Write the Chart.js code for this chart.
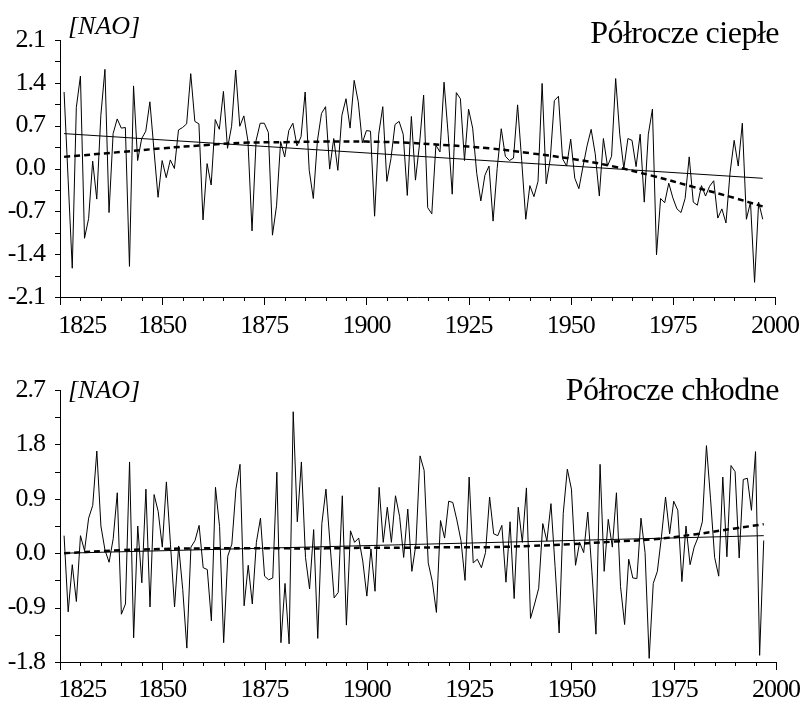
<!DOCTYPE html>
<html>
<head>
<meta charset="utf-8">
<script src="https://cdn.jsdelivr.net/npm/chart.js@4.4.1/dist/chart.umd.min.js"></script>
<style>
    html, body { margin: 0; padding: 0; background: #fff; }
    #page { position: relative; width: 807px; height: 702px; overflow: hidden; }
    canvas { position: absolute; left: 0; }
    .lbl { position: absolute; font-family: "Liberation Serif", serif; color: #000; white-space: nowrap; }
    .title { font-size: 32px; line-height: 32px; letter-spacing: -0.5px; right: 28px; }
    .unit { font-size: 26px; line-height: 26px; font-style: italic; left: 68px; }
</style>
</head>
<body>
<div id="page">
    <canvas id="warm" width="807" height="350" style="top:0"></canvas>
    <canvas id="cold" width="807" height="352" style="top:350px"></canvas>
    <div class="lbl title" style="top:16px">Półrocze ciepłe</div>
    <div class="lbl unit" style="top:13px">[NAO]</div>
    <div class="lbl title" style="top:373px">Półrocze chłodne</div>
    <div class="lbl unit" style="top:377px">[NAO]</div>
</div>
<script>
// ── Data ─────────────────────────────────────────────────────────────────────

const firstYear = 1826;

// NAO index, warm half-year (1826–1997)
const warmValues = [
     1.25, -0.19, -1.63,  1.00,  1.51, -1.14, -0.82,  0.12, -0.50,  0.87,
     1.62, -0.72,  0.57,  0.81,  0.66,  0.67, -1.60,  1.35,  0.13,  0.49,
     0.61,  1.09,  0.30, -0.47,  0.13, -0.15,  0.14,  0.00,  0.63,  0.67,
     0.73,  1.55,  0.77,  0.73, -0.84,  0.08, -0.27,  0.80,  0.64,  1.26,
     0.33,  0.69,  1.61,  0.69,  0.86,  0.45, -1.02,  0.46,  0.74,  0.74,
     0.59, -1.09, -0.61,  0.44,  0.19,  0.62,  0.74,  0.37,  0.52,  1.25,
    -0.03, -0.49,  0.45,  0.90,  1.01, -0.01,  0.49, -0.03,  0.87,  1.14,
     0.66,  1.44,  1.09,  0.42,  0.62,  0.61, -0.78,  0.56,  1.01, -0.21,
     0.16,  0.72,  0.77,  0.56, -0.44,  0.85, -0.19,  0.40,  1.20, -0.64,
    -0.74,  0.38,  0.27,  1.41,  0.56, -0.42,  1.24,  1.14,  0.13,  0.97,
     0.66, -0.08, -0.53, -0.11,  0.04, -0.86,  0.00,  0.65,  0.20,  0.13,
     0.17,  1.04,  0.13, -0.83, -0.28, -0.46, -0.21,  1.39, -0.25,  0.16,
     1.11,  1.18,  0.16,  0.04,  0.48, -0.16, -0.33,  0.03,  0.37,  0.64,
     0.24, -0.45,  0.49,  0.04,  0.20,  1.47,  0.56,  0.00,  0.49,  0.46,
     0.03,  0.56, -0.55,  0.56,  0.97, -1.41, -0.49, -0.56, -0.24, -0.48,
    -0.66, -0.72, -0.49,  0.19, -0.55, -0.60, -0.28, -0.45, -0.29, -0.20,
    -0.81, -0.66, -0.89, -0.07,  0.46,  0.04,  0.74, -0.83, -0.55, -1.86,
    -0.55, -0.83,
];

// NAO index, cold half-year (1826–1997)
const coldValues = [
     0.29, -0.97, -0.19, -0.80,  0.29,  0.04,  0.58,  0.79,  1.69,  0.45,
     0.05, -0.15,  0.24,  1.00, -1.01, -0.84,  1.51, -1.40,  0.45, -0.49,
     1.06, -0.89,  0.97,  0.69,  0.10,  1.18,  0.15, -0.89,  0.12, -0.60,
    -1.57,  0.10,  0.21,  0.46, -0.24, -0.27, -1.12,  1.09,  0.44, -1.48,
    -0.05,  0.15,  1.06,  1.47, -0.87, -0.20, -0.84,  0.18,  0.58, -0.38,
    -0.44, -0.41,  1.34, -1.48, -0.50, -1.50,  2.34,  0.52,  1.51, -0.07,
    -0.59,  0.39, -1.41,  0.49,  1.06,  0.15, -0.74, -0.65,  0.95, -1.19,
     0.37,  0.18,  0.25, -0.13, -0.71,  0.07, -0.63,  1.09,  0.18,  0.76,
     0.18,  0.95,  0.61, -0.07,  0.73, -0.30,  0.15,  1.61,  1.37, -0.16,
    -0.47, -0.98,  0.54,  0.25,  0.86,  0.84,  0.55,  0.21, -0.45,  1.26,
    -0.16, -0.10, -0.24,  0.01,  0.93,  0.32,  0.29,  0.46, -0.48,  0.52,
    -0.75,  0.76,  0.18,  1.08, -1.08, -0.84, -0.58,  0.49,  0.20,  0.82,
    -0.22, -1.32,  0.66,  1.39,  1.06, -0.20,  0.18,  0.01,  0.68, -0.30,
    -1.34,  1.47, -0.30,  0.56,  0.10,  1.00, -0.55, -1.18, -0.10, -0.41,
    -0.42,  0.58,  0.01, -1.74, -0.50, -0.30,  0.27,  0.93,  0.32,  0.86,
     0.71, -0.47,  0.45, -0.19,  0.10,  0.27,  0.52,  1.78,  0.90, -0.07,
    -0.38,  1.26, -0.06,  1.45,  1.35, -0.08,  1.22,  1.24,  0.71,  1.68,
    -1.69,  0.21,
];

// Linear trend (solid), end points
const linYears      = [1826, 1997];
const warmLinear    = [0.57, -0.16];
const coldLinear    = [0.00, 0.29];

// Polynomial trend (dashed), read at sample years
const polyYears = [1826, 1840, 1850, 1860, 1870, 1880, 1890, 1900, 1910,
                   1920, 1930, 1940, 1950, 1960, 1970, 1980, 1990, 1997];
const warmPoly  = [0.19, 0.27, 0.33, 0.38, 0.42, 0.43, 0.44, 0.44, 0.42,
                   0.38, 0.33, 0.25, 0.16, 0.04, -0.12, -0.30, -0.48, -0.62];
const coldPoly  = [0.00, 0.05, 0.07, 0.08, 0.08, 0.08, 0.08, 0.09, 0.09,
                   0.10, 0.10, 0.12, 0.15, 0.19, 0.23, 0.31, 0.41, 0.48];

// Axis settings
const xTicks     = { min: 1825, max: 2000, step: 5, labelEvery: 25 };
const warmYTicks = { min: -2.1, max: 2.1, step: 0.35 };
const coldYTicks = { min: -1.8, max: 2.7, step: 0.45 };

// ── Helpers ──────────────────────────────────────────────────────────────────

const FONT = "Liberation Serif";

function toPoints(xs, ys) {
    return ys.map((v, i) => ({ x: xs[i], y: v }));
}

function yearsFor(values) {
    return values.map((_, i) => firstYear + i);
}

// x label text; the first one is nudged right, clear of the y labels
function xLabel(v) {
    const yr = Math.round(v);
    if (yr % xTicks.labelEvery) return "";
    return yr === xTicks.min ? "\u2007\u2007\u2007\u2009\u2009" + yr : String(yr);
}

// axis lines + tick marks, drawn from the chart's own scales
const axisPlugin = {
    id: "axisTicks",
    beforeDraw(chart) {
        chart.ctx.letterSpacing = "-1px";
    },
    afterDraw(chart) {
        const { ctx, chartArea: a, scales: { x, y } } = chart;
        ctx.save();
        ctx.strokeStyle = "#000";
        ctx.lineWidth = 1;
        ctx.beginPath();
        ctx.moveTo(a.left + 0.5, a.top);
        ctx.lineTo(a.left + 0.5, a.bottom + 0.5);
        ctx.lineTo(a.right, a.bottom + 0.5);
        x.ticks.forEach(t => {
            const px = Math.round(x.getPixelForValue(t.value)) + 0.5;
            const major = Math.round(t.value) % xTicks.labelEvery === 0;
            ctx.moveTo(px, a.bottom);
            ctx.lineTo(px, a.bottom + (major ? 8 : 4));
        });
        y.ticks.forEach(t => {
            const py = Math.round(y.getPixelForValue(t.value)) + 0.5;
            ctx.moveTo(a.left, py);
            ctx.lineTo(a.left - 5, py);
        });
        ctx.stroke();
        ctx.restore();
    },
};

function makeChart(id, values, linear, poly, yt, xHeight, xPad) {
    const years = yearsFor(values);
    return new Chart(document.getElementById(id), {
        type: "line",
        data: {
            datasets: [
                {
                    data: toPoints(years, values),
                    borderColor: "#000",
                    borderWidth: 1,
                    pointRadius: 0,
                    tension: 0,
                },
                {
                    data: toPoints(linYears, linear),
                    borderColor: "#000",
                    borderWidth: 1,
                    pointRadius: 0,
                },
                {
                    data: toPoints(polyYears, poly),
                    borderColor: "#000",
                    borderWidth: 2.5,
                    borderDash: [6, 4],
                    pointRadius: 0,
                    tension: 0.4,
                },
            ],
        },
        options: {
            responsive: false,
            animation: false,
            events: [],
            layout: { padding: { left: 0, right: 29, top: 40, bottom: 0 } },
            plugins: { legend: { display: false }, tooltip: { enabled: false } },
            scales: {
                x: {
                    type: "linear",
                    min: xTicks.min,
                    max: xTicks.max,
                    grid: { display: false },
                    border: { display: false },
                    afterFit: s => { s.height = xHeight; },
                    ticks: {
                        stepSize: xTicks.step,
                        autoSkip: false,
                        maxRotation: 0,
                        padding: xPad,
                        color: "#000",
                        font: { family: FONT, size: 26 },
                        callback: xLabel,
                    },
                },
                y: {
                    min: yt.min,
                    max: yt.max,
                    grid: { display: false },
                    border: { display: false },
                    afterFit: s => { s.width = 60; },
                    ticks: {
                        stepSize: yt.step,
                        autoSkip: false,
                        padding: 7,
                        color: "#000",
                        font: { family: FONT, size: 26 },
                        callback: (v, i) => {
                            if (i % 2) return "";
                            return Math.abs(v) < 1e-9 ? "0.0" : v.toFixed(1);
                        },
                    },
                },
            },
        },
        plugins: [axisPlugin],
    });
}

makeChart("warm", warmValues, warmLinear, warmPoly, warmYTicks, 53, 6);
makeChart("cold", coldValues, coldLinear, coldPoly, coldYTicks, 40, 5);
</script>
</body>
</html>
